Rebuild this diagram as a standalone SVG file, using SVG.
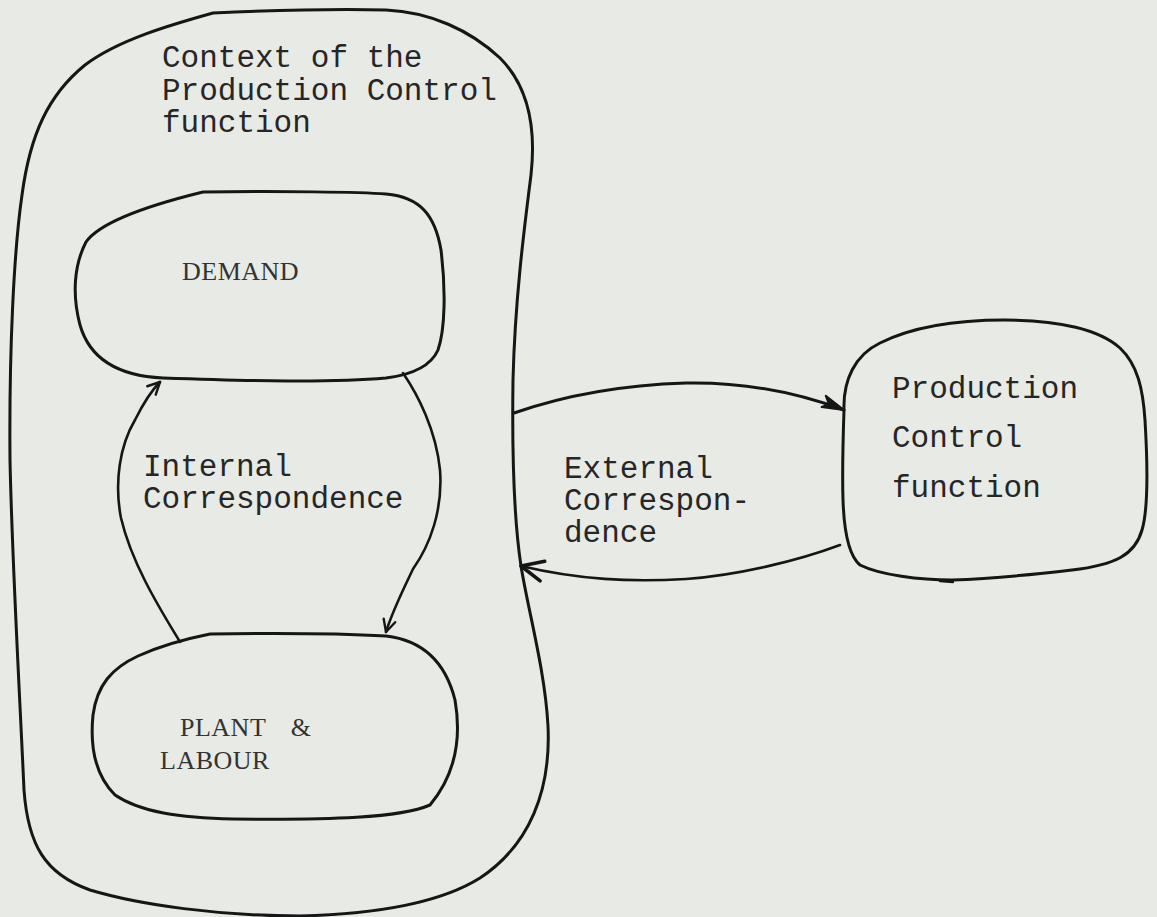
<svg xmlns="http://www.w3.org/2000/svg" width="1157" height="917" viewBox="0 0 1157 917">
  <style>
    .shape { fill: none; stroke: #161616; stroke-width: 3; stroke-linecap: round; stroke-linejoin: round; }
    .link { fill: none; stroke: #161616; stroke-width: 2.6; stroke-linecap: round; }
    .label { font-family: "Liberation Mono", "Courier New", monospace; font-size: 31px; fill: #262626; }
    .caps { font-family: "Liberation Serif", "Times New Roman", serif; font-size: 26px; letter-spacing: 0.5px; fill: #333333; }
  </style>
  <defs>
    <marker id="vee" viewBox="-14 -8 16 16" markerWidth="16" markerHeight="16" refX="0" refY="0" orient="auto" markerUnits="userSpaceOnUse">
      <path d="M-12,-6 L0,0 L-12,6" fill="none" stroke="#161616" stroke-width="2.4" stroke-linecap="round" stroke-linejoin="round"/>
    </marker>
    <marker id="veeBold" viewBox="-26 -13 28 26" markerWidth="28" markerHeight="26" refX="0" refY="0" orient="auto" markerUnits="userSpaceOnUse">
      <path d="M-22,-10 L0,0 L-22,10" fill="none" stroke="#161616" stroke-width="3.6" stroke-linecap="round" stroke-linejoin="round"/>
    </marker>
    <marker id="solid" viewBox="-26 -10 28 20" markerWidth="28" markerHeight="20" refX="0" refY="0" orient="auto" markerUnits="userSpaceOnUse">
      <path d="M-22,-7 L0,0 L-22,5 L-16,0 Z" fill="#161616" stroke="#161616" stroke-width="2" stroke-linejoin="round"/>
    </marker>
  </defs>

  <rect width="1157" height="917" fill="#e8eae5"/>

  <!-- outer boundary: the context of the production control function -->
  <g id="context">
    <path class="shape" d="M213,13 C280,10 350,9 386,10 C430,12 470,30 500,58 C530,88 536,130 531,175 C524,230 515,300 513,380 C512,450 514,520 521,566 C528,610 545,670 548,726 C551,790 530,845 480,878 C440,903 380,914 300,916 C220,916 140,905 90,890 C45,874 28,845 24,790 C20,700 12,560 10,460 C9,350 14,250 22,195 C30,135 48,95 85,65 C118,40 170,25 213,13 Z"/>
    <text class="label" x="162" y="67">Context of the</text>
    <text class="label" x="162" y="100">Production Control</text>
    <text class="label" x="162" y="132">function</text>
  </g>

  <g id="demand">
    <path class="shape" d="M203,192 C280,191 360,192 386,194 C420,197 435,215 441,250 C446,290 445,330 438,350 C430,368 410,375 386,378 C330,383 250,381 163,378 C120,376 90,360 80,325 C72,295 74,265 86,242 C100,222 150,205 203,192 Z"/>
    <text class="caps" x="182" y="280">DEMAND</text>
  </g>

  <g id="plant-labour">
    <path class="shape" d="M210,634 C280,633 350,634 386,636 C420,640 445,660 455,700 C462,740 455,775 430,805 C400,818 330,820 233,819 C180,818 140,812 115,795 C95,775 90,745 93,715 C97,685 112,668 138,656 C160,646 185,639 210,634 Z"/>
    <text class="caps" x="180" y="736">PLANT <tspan dx="18">&amp;</tspan></text>
    <text class="caps" x="160" y="769">LABOUR</text>
  </g>

  <g id="production-control">
    <path class="shape" d="M844,410 C843,380 855,355 880,343 C910,328 950,320 1005,320 C1060,320 1100,330 1120,348 C1138,365 1143,390 1145,420 C1148,470 1148,510 1142,530 C1135,555 1115,565 1072,570 C1030,575 980,579 952,580 C920,580 880,575 860,565 C848,555 844,530 843,500 C842,470 843,440 844,410 Z"/>
    <path class="shape" d="M940,581 L953,582" style="stroke-width:2.4"/>
    <text class="label" x="892" y="398">Production</text>
    <text class="label" x="892" y="447">Control</text>
    <text class="label" x="892" y="497">function</text>
  </g>

  <g id="connectors">
    <!-- internal correspondence loop -->
    <path class="link" d="M180,642 C162,612 132,565 121,518 C114,482 120,445 135,420 C144,402 152,390 160,382" marker-end="url(#vee)"/>
    <path class="link" d="M403,373 C418,395 436,430 440,470 C443,510 430,545 413,569 C403,590 392,612 386,632" marker-end="url(#vee)"/>
    <!-- external correspondence loop -->
    <path class="link" d="M514,413 C560,397 620,385 686,383 C740,382 790,390 844,410" style="stroke-width:3" marker-end="url(#solid)"/>
    <path class="link" d="M840,545 C800,560 740,575 686,579 C630,582 580,580 521,566" marker-end="url(#veeBold)"/>
  </g>

  <g id="labels">
    <text class="label" x="143" y="476">Internal</text>
    <text class="label" x="143" y="508">Correspondence</text>
    <text class="label" x="564" y="478">External</text>
    <text class="label" x="564" y="510">Correspon-</text>
    <text class="label" x="564" y="542">dence</text>
  </g>
</svg>
